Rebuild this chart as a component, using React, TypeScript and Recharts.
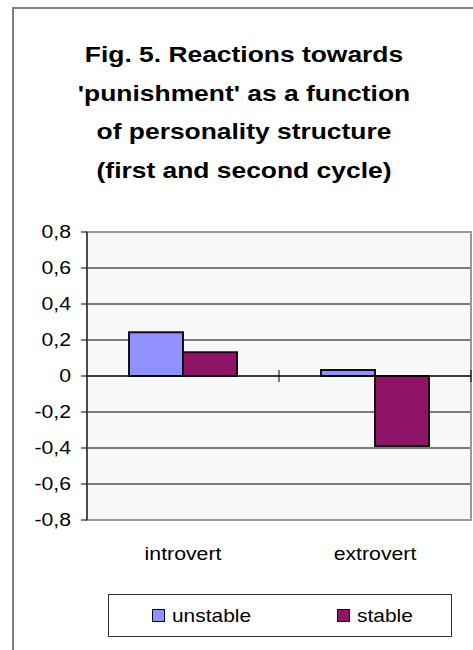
import React from 'react';
import { BarChart, Bar, XAxis, YAxis, CartesianGrid, ReferenceLine, ReferenceArea, Legend } from 'recharts';

const categories = ['introvert', 'extrovert'];
const unstableValues = [0.243, 0.033];
const stableValues = [0.132, -0.389];
const yTicks = [-0.8, -0.6, -0.4, -0.2, 0, 0.2, 0.4, 0.6, 0.8];
const seriesNames = ['unstable', 'stable'];
const seriesColors = ['#9090ff', '#8f1467'];
const titleLines = [
  'Fig. 5. Reactions towards',
  "'punishment' as a function",
  'of personality structure',
  '(first and second cycle)',
];

const data = categories.map((c, i) => ({
  category: c,
  unstable: unstableValues[i],
  stable: stableValues[i],
}));

const FONT = '"Liberation Sans", Arial, sans-serif';

const fmt = (v: number) => (v === 0 ? '0' : String(v).replace('.', ','));

const YTick = (p: any) => {
  const { x, y, payload } = p;
  return (
    <text
      transform={`translate(${x},${y}) scale(1.18,1)`}
      textAnchor="end"
      dy="0.355em"
      fontFamily={FONT}
      fontSize={18}
      fill="#000"
    >
      {fmt(payload.value)}
    </text>
  );
};

const XTick = (p: any) => {
  const { x, y, payload } = p;
  return (
    <text
      transform={`translate(${x},${y}) scale(1.12,1)`}
      textAnchor="middle"
      dy="0.71em"
      fontFamily={FONT}
      fontSize={19}
      fill="#000"
    >
      {payload.value}
    </text>
  );
};

const ZeroLine = (p: any) => {
  const x1 = p.x1 ?? p.points?.[0]?.x;
  const x2 = p.x2 ?? p.points?.[1]?.x;
  const y = p.y1 ?? p.points?.[0]?.y;
  const n = categories.length;
  const ticks = [];
  for (let i = 1; i <= n; i++) {
    const x = x1 + (i * (x2 - x1)) / n;
    ticks.push(<line key={i} x1={x} x2={x} y1={y - 6} y2={y + 6} stroke="#000" strokeWidth={1} />);
  }
  return (
    <g>
      <line x1={x1} x2={x2} y1={y} y2={y} stroke="#000" strokeWidth={1} />
      {ticks}
    </g>
  );
};

const LegendContent = () => (
  <div
    style={{
      border: '1px solid #333',
      width: 344,
      height: 43,
      boxSizing: 'border-box',
      display: 'flex',
      alignItems: 'center',
      fontFamily: FONT,
      fontSize: 19,
      color: '#000',
      background: '#fff',
    }}
  >
    {seriesNames.map((n, i) => (
      <div
        key={n}
        style={{
          display: 'flex',
          alignItems: 'center',
          marginLeft: i === 0 ? 43 : 0,
          width: i === 0 ? 185 : 'auto',
        }}
      >
        <span
          style={{
            display: 'inline-block',
            width: 11,
            height: 11,
            border: '1px solid #000',
            background: seriesColors[i],
            marginRight: 7,
          }}
        />
        <span style={{ display: 'inline-block', transform: 'scaleX(1.1)', transformOrigin: 'left center' }}>{n}</span>
      </div>
    ))}
  </div>
);

export default function App() {
  return (
    <div
      style={{
        position: 'absolute',
        left: 0,
        top: 0,
        width: 473,
        height: 650,
        overflow: 'hidden',
        background: '#fff',
      }}
    >
      <div
        style={{
          position: 'absolute',
          left: 12,
          top: 7,
          width: 600,
          height: 800,
          borderLeft: '2px solid #808080',
          borderTop: '2px solid #808080',
        }}
      />
      <div
        style={{
          position: 'absolute',
          left: 14,
          top: 36,
          width: 460,
          textAlign: 'center',
          fontFamily: FONT,
          fontWeight: 'bold',
          fontSize: 22,
          lineHeight: '38.5px',
          color: '#000',
        }}
      >
        {titleLines.map((t) => (
          <div key={t} style={{ transform: 'scaleX(1.2)', transformOrigin: 'center' }}>
            {t}
          </div>
        ))}
      </div>
      <div style={{ position: 'absolute', left: 0, top: 0 }}>
        <BarChart
          width={473}
          height={650}
          data={data}
          margin={{ top: 232, right: 2, bottom: 47, left: 0 }}
          barCategoryGap={42}
          barGap={0}
        >
          <CartesianGrid vertical={false} stroke="#000" fill="#f8f8f8" fillOpacity={1} />
          <ReferenceArea y1={-0.8} y2={0.8} fill="none" stroke="#999" strokeWidth={2} />
          <XAxis
            dataKey="category"
            axisLine={false}
            tickLine={false}
            tickSize={0}
            tickMargin={27}
            height={40}
            tick={<XTick />}
          />
          <YAxis
            domain={[-0.8, 0.8]}
            ticks={yTicks}
            interval={0}
            width={87}
            tickSize={6}
            tickMargin={10}
            tickFormatter={fmt}
            axisLine={{ stroke: '#000' }}
            tickLine={{ stroke: '#000' }}
            tick={<YTick />}
          />
          <ReferenceLine y={0} shape={ZeroLine} />
          <Bar
            dataKey="unstable"
            name={seriesNames[0]}
            fill={seriesColors[0]}
            stroke="#111"
            strokeWidth={2}
            isAnimationActive={false}
          />
          <Bar
            dataKey="stable"
            name={seriesNames[1]}
            fill={seriesColors[1]}
            stroke="#111"
            strokeWidth={2}
            isAnimationActive={false}
          />
          <Legend
            content={<LegendContent />}
            wrapperStyle={{ position: 'absolute', left: 108, top: 594, width: 344, height: 43 }}
          />
        </BarChart>
      </div>
    </div>
  );
}
